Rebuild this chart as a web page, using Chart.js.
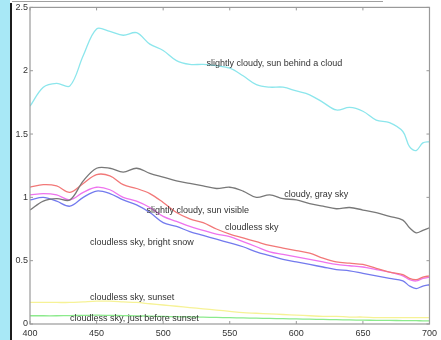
<!DOCTYPE html>
<html>
<head>
<meta charset="utf-8">
<script src="https://cdn.jsdelivr.net/npm/chart.js@4/dist/chart.umd.min.js"></script>
<style>
  html, body { margin: 0; padding: 0; background: #fff; }
  #wrap { position: relative; width: 441px; height: 340px; overflow: hidden; }
  #side { position: absolute; left: 0; top: 0; width: 10px; height: 340px; background: #a8e8f6; }
  #sideLine { position: absolute; left: 10px; top: 3px; width: 2px; height: 337px; background: #1c1c1c; }
  #topLine { position: absolute; left: 12px; top: 1px; width: 371px; height: 1px; background: #a0a0a0; }
  canvas { position: absolute; left: 0; top: 0; }
</style>
</head>
<body>
<div id="wrap">
  <canvas id="c" width="441" height="340"></canvas>
  <div id="side"></div>
  <div id="sideLine"></div>
  <div id="topLine"></div>
</div>
<script>
// ---- data ----
const wavelengths = [400,410,420,430,440,450,460,470,480,490,500,510,520,530,540,550,560,570,580,590,600,610,620,630,640,650,660,670,680,685,690,695,700];

const sunBehindCloud = [1.72,1.87,1.90,1.88,2.12,2.33,2.31,2.28,2.30,2.21,2.16,2.08,2.05,2.05,2.04,2.02,1.96,1.89,1.87,1.87,1.84,1.81,1.75,1.69,1.71,1.68,1.61,1.59,1.52,1.40,1.37,1.43,1.44];
const cloudyGraySky  = [0.90,0.97,0.99,0.98,1.13,1.23,1.23,1.20,1.23,1.19,1.16,1.13,1.11,1.09,1.07,1.08,1.05,1.00,1.02,0.99,0.98,0.95,0.93,0.91,0.92,0.90,0.88,0.85,0.82,0.76,0.72,0.74,0.76];
const cloudlessSky   = [1.08,1.10,1.09,1.04,1.11,1.18,1.17,1.10,1.07,1.03,0.96,0.88,0.83,0.80,0.75,0.71,0.68,0.65,0.62,0.60,0.58,0.56,0.52,0.49,0.48,0.47,0.44,0.41,0.39,0.36,0.35,0.37,0.38];
const sunVisible     = [1.02,1.03,1.02,0.98,1.04,1.08,1.06,1.00,0.97,0.92,0.85,0.81,0.77,0.74,0.71,0.69,0.65,0.61,0.57,0.55,0.53,0.51,0.49,0.47,0.46,0.45,0.43,0.41,0.38,0.35,0.34,0.36,0.37];
const brightSnow     = [0.98,1.00,0.97,0.93,1.00,1.05,1.03,0.98,0.94,0.88,0.80,0.77,0.73,0.70,0.67,0.64,0.61,0.57,0.54,0.51,0.49,0.47,0.45,0.43,0.42,0.40,0.38,0.36,0.34,0.30,0.28,0.30,0.31];
const sunset         = [0.17,0.17,0.17,0.17,0.175,0.18,0.18,0.175,0.17,0.16,0.15,0.14,0.13,0.12,0.11,0.10,0.09,0.085,0.08,0.075,0.07,0.065,0.06,0.06,0.055,0.055,0.05,0.05,0.05,0.05,0.05,0.05,0.05];
const beforeSunset   = [0.065,0.065,0.065,0.066,0.068,0.07,0.068,0.066,0.064,0.062,0.06,0.058,0.056,0.054,0.052,0.05,0.048,0.046,0.044,0.042,0.04,0.038,0.036,0.034,0.032,0.03,0.029,0.028,0.027,0.026,0.026,0.025,0.025];

const xTicks = [400,450,500,550,600,650,700];
const yTicks = [0,0.5,1,1.5,2,2.5];

const labelTexts = ["slightly cloudy, sun behind a cloud","cloudy, gray sky","slightly cloudy, sun visible","cloudless sky","cloudless sky, bright snow","cloudless sky, sunset","cloudless sky, just before sunset"];
const labelX = [532.5, 591, 487.5, 546.5, 445, 445, 430];
const labelY = [2.055, 1.02, 0.90, 0.76, 0.646, 0.21, 0.04];

// ---- build ----
function pts(arr){ return wavelengths.map((w,i)=>({x:w,y:arr[i]})); }
const seriesList = [
  [sunBehindCloud, 'rgb(140,230,236)'],
  [cloudyGraySky, 'rgb(120,120,120)'],
  [cloudlessSky, 'rgb(242,120,120)'],
  [sunVisible, 'rgb(238,115,238)'],
  [brightSnow, 'rgb(115,122,238)'],
  [sunset, 'rgb(246,242,150)'],
  [beforeSunset, 'rgb(140,234,140)']
];

const boxPlugin = {
  id: 'box',
  afterDatasetsDraw(chart) {
    const ctx = chart.ctx, a = chart.chartArea;
    const xs = chart.scales.x, ys = chart.scales.y;
    ctx.save();
    ctx.strokeStyle = '#9a9a9a';
    ctx.lineWidth = 1.2;
    ctx.strokeRect(a.left, a.top, a.right - a.left, a.bottom - a.top);
    ctx.lineWidth = 1;
    ctx.beginPath();
    xTicks.forEach(v => {
      const px = xs.getPixelForValue(v);
      ctx.moveTo(px, a.bottom); ctx.lineTo(px, a.bottom - 3);
      ctx.moveTo(px, a.top); ctx.lineTo(px, a.top + 3);
    });
    yTicks.forEach(v => {
      const py = ys.getPixelForValue(v);
      ctx.moveTo(a.left, py); ctx.lineTo(a.left + 3, py);
      ctx.moveTo(a.right, py); ctx.lineTo(a.right - 3, py);
    });
    ctx.stroke();
    // text annotations
    ctx.fillStyle = '#333';
    ctx.font = '9px "Liberation Sans", Arial, sans-serif';
    ctx.textAlign = 'left';
    ctx.textBaseline = 'middle';
    labelTexts.forEach((t, i) => {
      ctx.fillText(t, xs.getPixelForValue(labelX[i]), ys.getPixelForValue(labelY[i]));
    });
    ctx.restore();
  }
};

new Chart(document.getElementById('c'), {
  type: 'line',
  data: {
    datasets: seriesList.map(([arr, col]) => ({
      data: pts(arr),
      borderColor: col,
      borderWidth: 1.3,
      pointRadius: 0,
      fill: false,
      tension: 0.35
    }))
  },
  options: {
    responsive: false,
    devicePixelRatio: 1,
    animation: false,
    events: [],
    layout: { padding: { top: 7, right: 10, left: 0, bottom: 0 } },
    plugins: { legend: { display: false }, tooltip: { enabled: false } },
    scales: {
      x: {
        type: 'linear', min: 400, max: 700,
        afterBuildTicks: s => { s.ticks = xTicks.map(v => ({ value: v })); },
        afterFit: s => { s.height = 16; },
        grid: { display: false, drawTicks: false },
        border: { display: false },
        ticks: { color: '#333', font: { size: 9, family: '"Liberation Sans", Arial, sans-serif' }, padding: 4, maxRotation: 0, autoSkip: false }
      },
      y: {
        type: 'linear', min: 0, max: 2.5,
        afterBuildTicks: s => { s.ticks = yTicks.map(v => ({ value: v })); },
        afterFit: s => { s.width = 30; },
        grid: { display: false, drawTicks: false },
        border: { display: false },
        ticks: { color: '#333', font: { size: 9, family: '"Liberation Sans", Arial, sans-serif' }, padding: 2, callback: v => String(v) }
      }
    }
  },
  plugins: [boxPlugin]
});
</script>
</body>
</html>
